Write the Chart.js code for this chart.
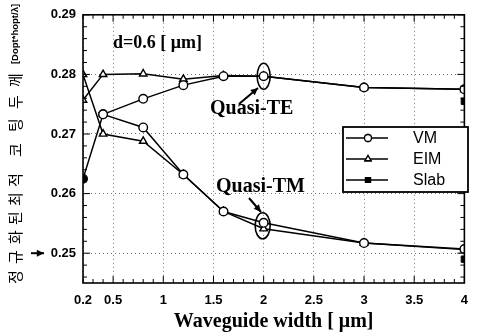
<!DOCTYPE html>
<html>
<head>
<meta charset="utf-8">
<script src="https://cdn.jsdelivr.net/npm/chart.js@4/dist/chart.umd.min.js"></script>
<style>
  html, body { margin: 0; padding: 0; background: #fff; }
  #wrap { width: 478px; height: 336px; }
</style>
</head>
<body>
<div id="wrap"><canvas id="lineChart" width="478" height="336"></canvas></div>
<script>
// waveguide widths [um]
let widths = [0.2, 0.4, 0.8, 1.2, 1.6, 2.0, 3.0, 4.0];

// normalized optimum coating thickness
let vmTE  = [null, 0.2733, 0.2759, 0.2782, 0.2797, 0.2797, 0.2778, 0.2775];
let vmTM  = [0.2625, 0.2733, 0.2711, 0.2632, 0.2570, 0.2551, 0.2517, 0.2507];
let eimTE = [0.2757, 0.2800, 0.2801, 0.2792, 0.2798, 0.2797, 0.2778, 0.2775];
let eimTM = [0.2800, 0.2700, 0.2688, 0.2632, 0.2570, 0.2541, 0.2517, 0.2506];
let slabX = [4.0, 4.0];
let slabY = [0.2755, 0.2490];

let xTicks = [0.2, 0.5, 1, 1.5, 2, 2.5, 3, 3.5, 4];
let yTicks = [0.25, 0.26, 0.27, 0.28, 0.29];

const sans = '"Liberation Sans", Arial, sans-serif';
const serif = '"Liberation Serif", "Times New Roman", serif';

function toPoints(xs, ys) {
    let pts = [];
    for (let i = 0; i < xs.length; i++) {
        if (ys[i] !== null) pts.push({x: xs[i], y: ys[i]});
    }
    return pts;
}

function lineSet(label, ys, style, fill) {
    return {
        label: label,
        data: toPoints(widths, ys),
        borderColor: '#000',
        borderWidth: 1.5,
        pointStyle: style,
        pointRadius: 4.3,
        pointBorderWidth: 1.4,
        pointBorderColor: '#000',
        pointBackgroundColor: fill,
        tension: 0
    };
}

function arrow(ctx, x1, y1, x2, y2) {
    let a = Math.atan2(y2 - y1, x2 - x1);
    ctx.beginPath();
    ctx.moveTo(x1, y1);
    ctx.lineTo(x2, y2);
    ctx.lineWidth = 2;
    ctx.stroke();
    ctx.beginPath();
    ctx.moveTo(x2, y2);
    ctx.lineTo(x2 - 8 * Math.cos(a - 0.45), y2 - 8 * Math.sin(a - 0.45));
    ctx.lineTo(x2 - 8 * Math.cos(a + 0.45), y2 - 8 * Math.sin(a + 0.45));
    ctx.closePath();
    ctx.fill();
}

const decor = {
    id: 'decor',
    afterDraw(chart) {
        let ctx = chart.ctx;
        let a = chart.chartArea;
        let xs = chart.scales.x, ys = chart.scales.y;
        ctx.save();
        ctx.strokeStyle = '#000';
        ctx.fillStyle = '#000';

        // frame
        ctx.lineWidth = 1.6;
        ctx.strokeRect(a.left, a.top, a.right - a.left, a.bottom - a.top);

        // inward minor ticks
        ctx.lineWidth = 1;
        for (let v = 0.2; v <= 4.001; v += 0.1) {
            let px = xs.getPixelForValue(v);
            let major = Math.abs(v * 2 - Math.round(v * 2)) < 0.01;
            let len = major ? 7 : 4;
            ctx.beginPath();
            ctx.moveTo(px, a.bottom); ctx.lineTo(px, a.bottom - len);
            ctx.moveTo(px, a.top); ctx.lineTo(px, a.top + len);
            ctx.stroke();
        }
        for (let v = 0.246; v <= 0.2901; v += 0.002) {
            let py = ys.getPixelForValue(v);
            let major = Math.abs(v * 100 - Math.round(v * 100)) < 0.01;
            let len = major ? 7 : 4;
            ctx.beginPath();
            ctx.moveTo(a.left, py); ctx.lineTo(a.left + len, py);
            ctx.moveTo(a.right, py); ctx.lineTo(a.right - len, py);
            ctx.stroke();
        }

        // d = 0.6 label
        ctx.font = 'bold 18px ' + serif;
        ctx.textBaseline = 'middle';
        ctx.textAlign = 'left';
        ctx.fillText('d=0.6 [ \u03bcm]', 113, 43);

        // Quasi-TE / Quasi-TM
        ctx.font = 'bold 20px ' + serif;
        ctx.fillText('Quasi-TE', 210, 109);
        ctx.fillText('Quasi-TM', 216, 187);
        arrow(ctx, 239, 104, 258, 88);
        arrow(ctx, 249, 198, 261, 212);

        ctx.lineWidth = 1.6;
        let ex = xs.getPixelForValue(2.0);
        ctx.beginPath();
        ctx.ellipse(ex, ys.getPixelForValue(0.2797), 6.5, 13, 0, 0, Math.PI * 2);
        ctx.stroke();
        ctx.beginPath();
        ctx.ellipse(ex - 1, ys.getPixelForValue(0.2546), 7.5, 13, 0, 0, Math.PI * 2);
        ctx.stroke();

        // legend box
        let lx = 343, ly = 127, lw = 125, lh = 65;
        ctx.fillStyle = '#fff';
        ctx.fillRect(lx, ly, lw, lh);
        ctx.fillStyle = '#000';
        ctx.lineWidth = 1.8;
        ctx.strokeRect(lx, ly, lw, lh);
        let entries = [['VM', 'circle', '#fff'], ['EIM', 'triangle', '#fff'], ['Slab', 'rect', '#000']];
        ctx.font = '16px ' + sans;
        for (let i = 0; i < entries.length; i++) {
            let yy = 138 + i * 21;
            ctx.lineWidth = 1.5;
            ctx.beginPath();
            ctx.moveTo(346, yy); ctx.lineTo(388, yy);
            ctx.stroke();
            ctx.fillStyle = entries[i][2];
            ctx.lineWidth = 1.3;
            Chart.helpers.drawPoint(ctx, {pointStyle: entries[i][1], radius: 3.5, borderWidth: 1.3}, 368, yy);
            ctx.fill();
            ctx.stroke();
            ctx.fillStyle = '#000';
            ctx.fillText(entries[i][0], 413, yy + 1);
        }

        // arrow to 0.25
        let p25 = ys.getPixelForValue(0.25);
        arrow(ctx, 31, p25, 44, p25);

        // y axis title, written bottom to top
        ctx.translate(15, 0);
        ctx.rotate(-Math.PI / 2);
        ctx.textAlign = 'center';
        ctx.font = '15px "Noto Sans CJK KR", sans-serif';
        let chars = ['\uc815', '\uaddc', '\ud654', '\ub41c', '\ucd5c', '\uc801', '\ucf54', '\ud305', '\ub450', '\uaed8'];
        let charY = [277, 257, 237, 218, 199, 180, 150, 125, 102, 80];
        for (let i = 0; i < chars.length; i++) {
            ctx.fillText(chars[i], -charY[i], 0);
        }
        ctx.font = 'bold 9.5px ' + sans;
        ctx.fillText('[Dopt*hopt/\u03bb]', -34, 0);

        ctx.restore();
    }
};

function buildConfig() {
    let vmTMSet = lineSet('VM', vmTM, 'circle', '#fff');
    vmTMSet.pointBackgroundColor = vmTMSet.data.map((p, i) => i === 0 ? '#000' : '#fff');
    return {
        type: 'scatter',
        data: {
            datasets: [
                lineSet('VM', vmTE, 'circle', '#fff'),
                vmTMSet,
                lineSet('EIM', eimTE, 'triangle', '#fff'),
                lineSet('EIM', eimTM, 'triangle', '#fff'),
                {
                    label: 'Slab',
                    data: toPoints(slabX, slabY),
                    showLine: false,
                    pointStyle: 'rect',
                    pointRadius: 4.5,
                    pointBackgroundColor: '#000',
                    pointBorderColor: '#000'
                }
            ].map(d => Object.assign(d, {showLine: d.showLine !== false}))
        },
        options: {
            responsive: false,
            animation: false,
            layout: {padding: {top: 13, right: 11, left: 0, bottom: 0}},
            plugins: {legend: {display: false}, tooltip: {enabled: false}},
            scales: {
                x: {
                    type: 'linear',
                    min: 0.2,
                    max: 4,
                    afterBuildTicks: s => { s.ticks = xTicks.map(v => ({value: v})); },
                    afterFit: s => { s.height = 53; },
                    grid: {color: '#777', lineWidth: 1, drawTicks: false},
                    border: {display: false, dash: [1, 3]},
                    ticks: {
                        color: '#000', padding: 10, maxRotation: 0, autoSkip: false,
                        font: {family: sans, size: 13, weight: 'bold'},
                        callback: v => String(v)
                    },
                    title: {
                        display: true,
                        text: 'Waveguide width [ \u03bcm]',
                        color: '#000',
                        font: {family: serif, size: 20, weight: 'bold'},
                        padding: {top: 0, bottom: 2}
                    }
                },
                y: {
                    type: 'linear',
                    min: 0.245,
                    max: 0.29,
                    afterBuildTicks: s => { s.ticks = yTicks.map(v => ({value: v})); },
                    afterFit: s => { s.width = 83; },
                    grid: {color: '#777', lineWidth: 1, drawTicks: false},
                    border: {display: false, dash: [1, 3]},
                    ticks: {
                        color: '#000', padding: 7,
                        font: {family: sans, size: 13, weight: 'bold'},
                        callback: v => v.toFixed(2)
                    }
                }
            }
        },
        plugins: [decor]
    };
}

window.onload = function () {
    let ctx = document.getElementById('lineChart').getContext('2d');
    window.myLine = new Chart(ctx, buildConfig());
};
</script>
</body>
</html>
